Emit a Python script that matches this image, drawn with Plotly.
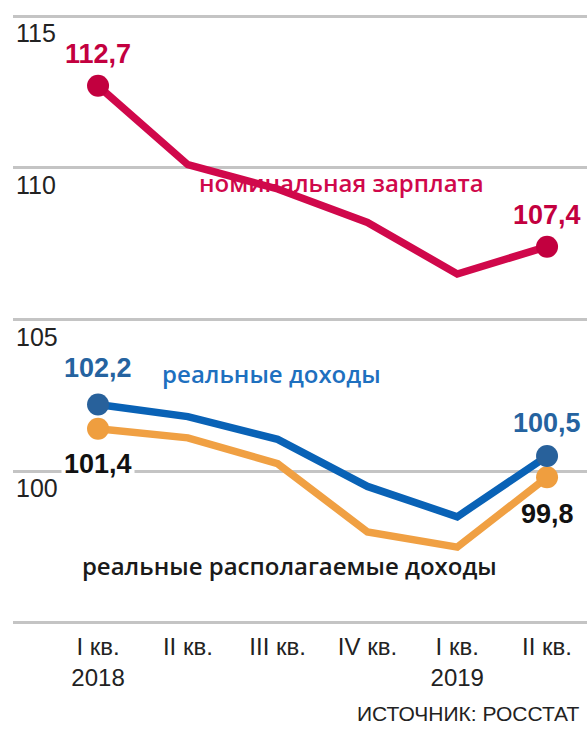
import plotly.graph_objects as go

categories = ["I кв.<br>2018", "II кв.", "III кв.", "IV кв.", "I кв.<br>2019", "II кв."]
nominal_wage = [112.7, 110.1, 109.3, 108.2, 106.5, 107.4]
real_income = [102.2, 101.8, 101.05, 99.5, 98.5, 100.5]
real_disposable = [101.4, 101.1, 100.25, 98.0, 97.5, 99.8]
y_ticks = [95, 100, 105, 110, 115]
source_text = "ИСТОЧНИК: РОССТАТ"

x = list(range(len(categories)))

RED, RED_DOT = "#d0084b", "#c2003f"
BLUE, BLUE_DOT = "#0962b6", "#28619b"
ORANGE, ORANGE_DOT = "#f0a043", "#ef9e3f"
LABEL_FONT = "Open Sans, DejaVu Sans, sans-serif"
NUM_FONT = "Liberation Sans Narrow, Liberation Sans, Arial, sans-serif"

fig = go.Figure()

# series name labels drawn under lines
fig.add_trace(go.Scatter(x=[2.71], y=[109.4], mode="text", text=["номинальная зарплата"],
                         textfont=dict(family=LABEL_FONT, size=24, color=RED, weight=600),
                         hoverinfo="skip", showlegend=False))
fig.add_trace(go.Scatter(x=[1.93], y=[103.1], mode="text", text=["реальные доходы"],
                         textfont=dict(family=LABEL_FONT, size=24, color="#1e70bf", weight=600),
                         hoverinfo="skip", showlegend=False))
fig.add_trace(go.Scatter(x=[2.13], y=[96.77], mode="text", text=["реальные располагаемые доходы"],
                         textfont=dict(family=LABEL_FONT, size=24, color="#1a1a1a", weight=600),
                         hoverinfo="skip", showlegend=False))

series = [(real_disposable, ORANGE, ORANGE_DOT),
          (real_income, BLUE, BLUE_DOT),
          (nominal_wage, RED, RED_DOT)]

for vals, lc, mc in series:
    fig.add_trace(go.Scatter(
        x=x, y=vals, mode="lines",
        line=dict(color=lc, width=7.5),
        hoverinfo="skip", showlegend=False))

for vals, lc, mc in series:
    fig.add_trace(go.Scatter(
        x=[x[0], x[-1]], y=[vals[0], vals[-1]], mode="markers",
        marker=dict(color=mc, size=22, opacity=1, line=dict(width=0)),
        opacity=1, hoverinfo="skip", showlegend=False))

def fmt(v):
    return f"{v:.1f}".replace(".", ",")

ann = []
def value_label(xi, v, color, yshift, bg=None):
    d = dict(x=xi, y=v, text=fmt(v), showarrow=False, yshift=yshift,
             font=dict(family=NUM_FONT, size=27, color=color, weight="bold"),
             xanchor="center", yanchor="middle")
    if bg:
        d.update(bgcolor=bg, borderpad=2)
    ann.append(d)

value_label(0, nominal_wage[0], "#c3003f", 32)
value_label(5, nominal_wage[-1], "#c3003f", 32)
value_label(0, real_income[0], "#2563a0", 36)
value_label(5, real_income[-1], "#2563a0", 33)
value_label(0, real_disposable[0], "#111111", -35, bg="white")
value_label(5, real_disposable[-1], "#111111", -37)

ann.append(dict(x=1, xref="paper", xanchor="right", xshift=-6,
                y=-0.135, yref="paper", yanchor="middle", text=source_text,
                showarrow=False, font=dict(family=NUM_FONT, size=21, color="#222222")))

fig.update_layout(
    width=587, height=731,
    margin=dict(l=13, r=0, t=10, b=101),
    paper_bgcolor="white", plot_bgcolor="white",
    annotations=ann,
    xaxis=dict(range=[-0.947, 5.445], tickmode="array", tickvals=x, ticktext=categories,
               showgrid=False, zeroline=False, showline=False, ticks="",
               tickfont=dict(family=NUM_FONT, size=24, color="#222222"), fixedrange=True),
    yaxis=dict(range=[94.769, 115.198], tickmode="array", tickvals=y_ticks,
               ticktext=[str(t) for t in y_ticks], ticklabelposition="inside bottom",
               showgrid=True, gridcolor="#c4c4c4", gridwidth=2.5, zeroline=False,
               showline=False, ticks="",
               tickfont=dict(family=NUM_FONT, size=25, color="#222222"), fixedrange=True),
)

fig.write_html("out.html", config={"displayModeBar": False},
               post_script="document.body.style.margin='0';document.body.style.overflow='hidden';")
